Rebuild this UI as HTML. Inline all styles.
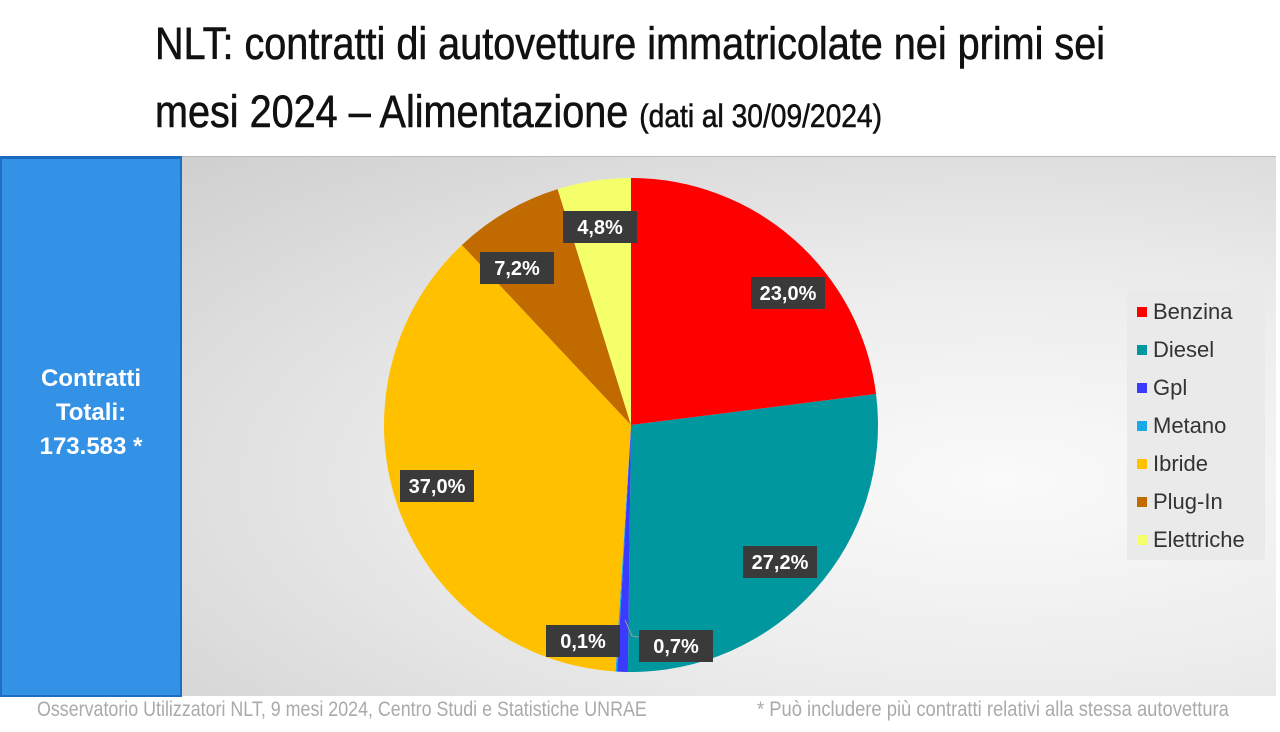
<!DOCTYPE html>
<html><head><meta charset="utf-8"><style>
body{margin:0;width:1280px;height:732px;background:#fff;position:relative;overflow:hidden;font-family:"Liberation Sans",sans-serif}
.t{position:absolute;left:155px;font-size:45px;color:#111;white-space:nowrap;transform-origin:0 0;transform:scaleX(0.88);font-family:"Liberation Sans Narrow","Liberation Sans",sans-serif;-webkit-text-stroke:0.6px #111}
.t small{font-size:32px}
#gray{position:absolute;left:181px;top:156px;width:1095px;height:539px;background:radial-gradient(ellipse at 75% 60%,#fafafa 0%,#ececec 45%,#cfcfcf 100%);border-top:1px solid #bbb}
#blue{position:absolute;left:0;top:156px;width:178px;height:536px;background:#3391e6;border:2px solid #1f6fc0;border-top:3px solid #1a6bbd;color:#fff;font-weight:bold;font-size:24px;text-align:center;box-sizing:content-box}
#blue div{position:absolute;top:203px;width:100%;line-height:34px}
.foot{position:absolute;top:698px;font-size:21px;color:#aaa;white-space:nowrap;transform-origin:0 0;font-family:"Liberation Sans Narrow","Liberation Sans",sans-serif}
#leg{position:absolute;left:1127px;top:290px;width:138px;height:270px;background:#eaeaea}
.li{position:absolute;left:10px;font-size:22px;color:#333}
.li i{display:inline-block;width:10px;height:10px;margin-right:6px;vertical-align:2px}
</style></head><body>
<div class="t" style="top:18px">NLT: contratti di autovetture immatricolate nei primi sei</div>
<div class="t" style="top:86px">mesi 2024 – Alimentazione <small>(dati al 30/09/2024)</small></div>
<div id="gray"></div>
<div id="blue"><div>Contratti<br>Totali:<br>173.583 *</div></div>
<svg id="pie" width="1280" height="732" style="position:absolute;left:0;top:0"></svg>
<div id="leg">
<div class="li" style="top:9px"><i style="background:#ff0000"></i>Benzina</div>
<div class="li" style="top:47px"><i style="background:#00979f"></i>Diesel</div>
<div class="li" style="top:85px"><i style="background:#3b3bff"></i>Gpl</div>
<div class="li" style="top:123px"><i style="background:#19a9e6"></i>Metano</div>
<div class="li" style="top:161px"><i style="background:#ffc000"></i>Ibride</div>
<div class="li" style="top:199px"><i style="background:#c06a00"></i>Plug-In</div>
<div class="li" style="top:237px"><i style="background:#f4ff6a"></i>Elettriche</div>
</div>
<div class="foot" style="left:37px;transform:scaleX(0.85)">Osservatorio Utilizzatori NLT, 9 mesi 2024, Centro Studi e Statistiche UNRAE</div>
<div class="foot" style="left:757px;transform:scaleX(0.875)">* Può includere più contratti relativi alla stessa autovettura</div>
<script>
var d=[[23,'#ff0000'],[27.2,'#00979f'],[0.7,'#3b3bff'],[0.1,'#19a9e6'],[37,'#ffc000'],[7.2,'#c06a00'],[4.8,'#f4ff6a']];
var cx=631,cy=425,r=247,a=0,s='';
d.forEach(function(e){var a2=a+e[0]/100*2*Math.PI;
var x1=cx+r*Math.sin(a),y1=cy-r*Math.cos(a),x2=cx+r*Math.sin(a2),y2=cy-r*Math.cos(a2);
s+='<path d="M'+cx+','+cy+'L'+x1+','+y1+'A'+r+','+r+' 0 '+(a2-a>Math.PI?1:0)+' 1 '+x2+','+y2+'Z" fill="'+e[1]+'"/>';a=a2;});
s+='<polyline points="625,620 632,636 645,638" fill="none" stroke="#999" stroke-width="1"/>';
var L=[[788,293,'23,0%'],[780,562,'27,2%'],[676,646,'0,7%'],[583,641,'0,1%'],[437,486,'37,0%'],[517,268,'7,2%'],[600,227,'4,8%']];
L.forEach(function(l){s+='<rect x="'+(l[0]-37)+'" y="'+(l[1]-16)+'" width="74" height="32" fill="#3a3a3a"/><text x="'+l[0]+'" y="'+(l[1]+7)+'" fill="#fff" font-size="20" font-weight="bold" text-anchor="middle" font-family="Liberation Sans,sans-serif">'+l[2]+'</text>';});
document.getElementById('pie').innerHTML=s;
</script>
</body></html>
